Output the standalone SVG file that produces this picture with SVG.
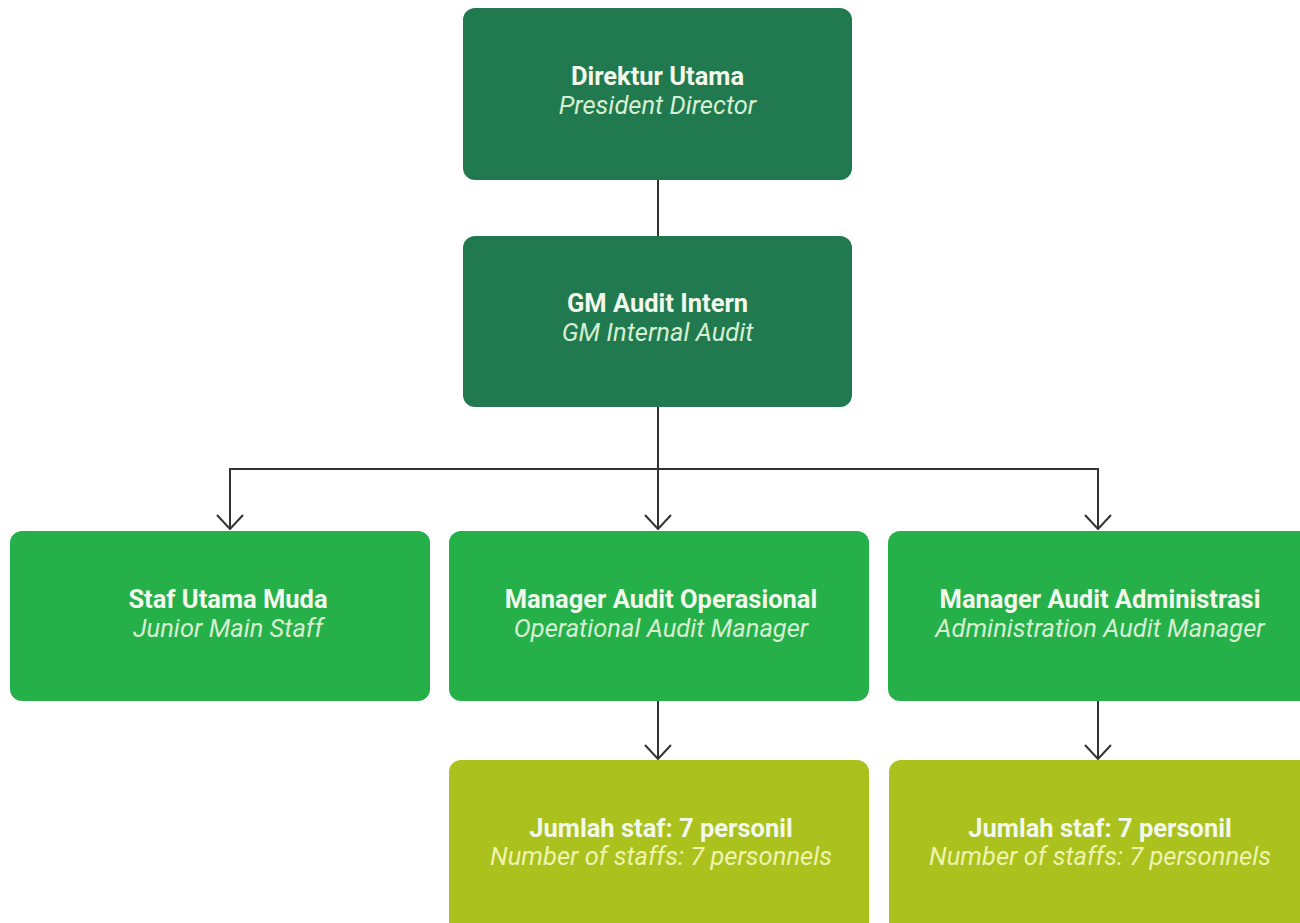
<svg xmlns="http://www.w3.org/2000/svg" width="1300" height="923" viewBox="0 0 1300 923">
<defs>
<style>
.n1{fill:#217a4f}
.n2{fill:#26b04a}
.n3{fill:#abc11d}
.t{font-family:Roboto,"Liberation Sans",sans-serif;font-size:25.5px;text-anchor:middle}
.b{font-weight:bold;fill:#f2f8ec}
.i{font-style:italic;fill:#d6efd2}
.i3{font-style:italic;fill:#eef4b0}
.c{fill:none;stroke:#333333;stroke-width:2}
</style>
<marker id="ah" viewBox="0 0 16 28" refX="15" refY="14" markerWidth="16" markerHeight="28" markerUnits="userSpaceOnUse" orient="auto-start-reverse">
<path d="M1,1 L15,14 L1,27" fill="none" stroke="#333333" stroke-width="2"/>
</marker>
</defs>
<rect width="1300" height="923" fill="#ffffff"/>
<g id="connectors">
<line class="c" x1="658" y1="180" x2="658" y2="236"/>
<line class="c" x1="658" y1="407" x2="658" y2="529" marker-end="url(#ah)"/>
<polyline class="c" points="230,529 230,469 1098,469 1098,529" marker-start="url(#ah)" marker-end="url(#ah)"/>
<line class="c" x1="658" y1="701" x2="658" y2="759" marker-end="url(#ah)"/>
<line class="c" x1="1098" y1="701" x2="1098" y2="759" marker-end="url(#ah)"/>
</g>
<g id="direktur">
<rect class="n1" x="463" y="8" width="389" height="172" rx="12"/>
<text class="t b" x="657.5" y="85">Direktur Utama</text>
<text class="t i" x="657.5" y="114">President Director</text>
</g>
<g id="gm">
<rect class="n1" x="463" y="236" width="389" height="171" rx="12"/>
<text class="t b" x="657.5" y="312">GM Audit Intern</text>
<text class="t i" x="657.5" y="341">GM Internal Audit</text>
</g>
<g id="staf">
<rect class="n2" x="10" y="531" width="420" height="170" rx="12"/>
<text class="t b" x="228" y="608">Staf Utama Muda</text>
<text class="t i" x="228" y="637">Junior Main Staff</text>
</g>
<g id="mgr-ops">
<rect class="n2" x="449" y="531" width="420" height="170" rx="12"/>
<text class="t b" x="661" y="608">Manager Audit Operasional</text>
<text class="t i" x="661" y="637">Operational Audit Manager</text>
</g>
<g id="mgr-adm">
<rect class="n2" x="888" y="531" width="424" height="170" rx="12"/>
<text class="t b" x="1100" y="608">Manager Audit Administrasi</text>
<text class="t i" x="1100" y="637">Administration Audit Manager</text>
</g>
<g id="staff-ops">
<rect class="n3" x="449" y="760" width="420" height="175" rx="12"/>
<text class="t b" x="661" y="837">Jumlah staf: 7 personil</text>
<text class="t i3" x="661" y="865">Number of staffs: 7 personnels</text>
</g>
<g id="staff-adm">
<rect class="n3" x="889" y="760" width="423" height="175" rx="12"/>
<text class="t b" x="1100" y="837">Jumlah staf: 7 personil</text>
<text class="t i3" x="1100" y="865">Number of staffs: 7 personnels</text>
</g>
</svg>
